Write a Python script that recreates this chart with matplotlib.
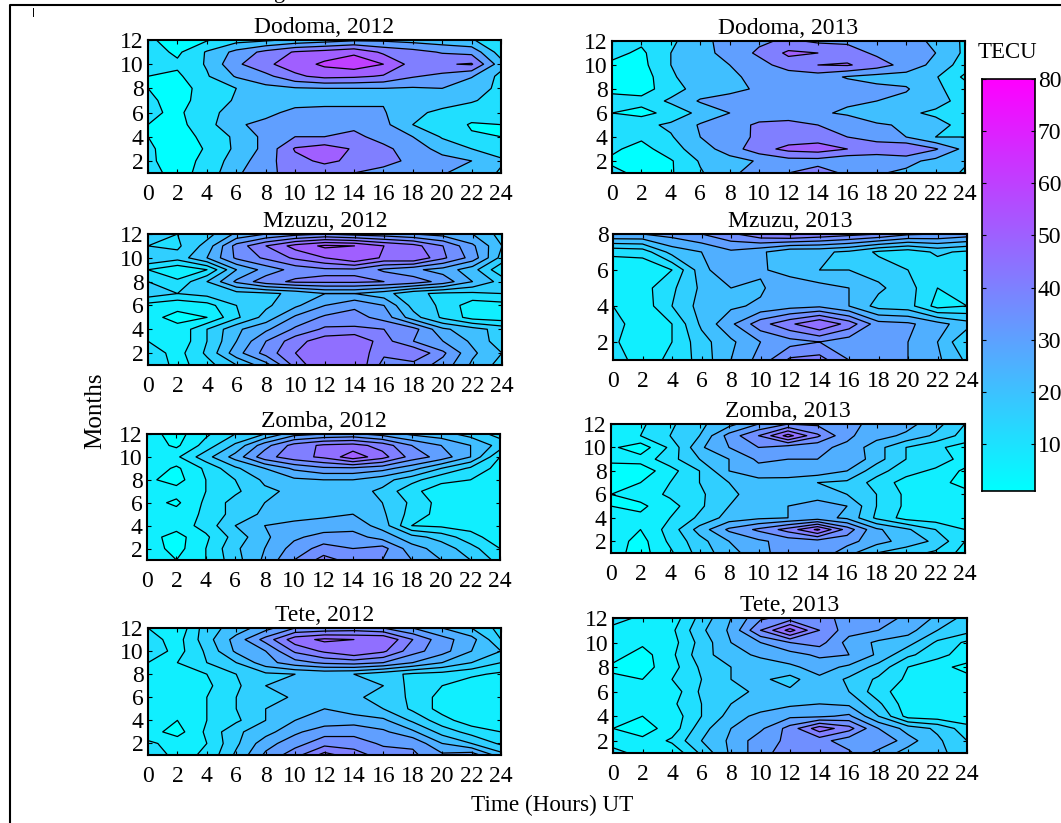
from matplotlib import pyplot as plt
from matplotlib.lines import Line2D
import numpy as np

plt.rcParams['font.family'] = ['Liberation Serif', 'DejaVu Serif']

W, H = 1061, 823

hours = list(range(0, 25, 2))

# each row is a month from 1 up, each column an hour from 0 to 24 step 2
dodoma_2012 = [
    [14, 6, 14, 28, 38, 43, 44, 40, 37, 33, 31, 25, 19],
    [12, 5, 13, 25, 36, 47, 52, 48, 43, 38, 34, 30, 21],
    [12, 4, 11, 22, 33, 51, 55, 49, 42, 36, 26, 20, 17],
    [10, 5, 13, 22, 33, 40, 40, 42, 37, 30, 19, 11, 10],
    [10, 7, 16, 29, 32, 36, 38, 38, 33, 20, 16, 9, 10],
    [12, 8, 17, 24, 28, 32, 32, 32, 31, 21, 19, 15, 14],
    [12, 6, 15, 21, 26, 27, 28, 28, 29, 27, 22, 21, 16],
    [10, 7, 13, 20, 27, 29, 30, 30, 30, 29, 30, 22, 19],
    [10, 8, 19, 31, 37, 48, 53, 52, 49, 41, 37, 31, 17],
    [15, 12, 21, 38, 48, 55, 62, 66, 60, 46, 49, 51, 24],
    [15, 8, 21, 33, 43, 51, 54, 58, 48, 44, 39, 37, 15],
    [12, 5, 9, 16, 18, 22, 25, 28, 28, 26, 24, 21, 12],
]
dodoma_2013 = [
    [13, 7, 9, 19, 27, 36, 40, 45, 38, 31, 28, 24, 19],
    [8, 5, 9, 21, 26, 31, 36, 36, 32, 33, 33, 27, 21],
    [12, 6, 16, 25, 35, 46, 53, 55, 50, 46, 50, 41, 27],
    [16, 12, 19, 30, 33, 43, 44, 45, 40, 36, 30, 20, 20],
    [16, 17, 22, 31, 35, 42, 43, 40, 39, 31, 29, 22, 18],
    [10, 7, 13, 23, 30, 34, 35, 32, 28, 25, 21, 19, 17],
    [13, 13, 22, 31, 33, 35, 35, 35, 32, 30, 27, 22, 18],
    [8, 6, 15, 25, 28, 31, 34, 38, 36, 33, 31, 22, 15],
    [7, 4, 19, 24, 28, 33, 34, 35, 29, 26, 26, 21, 8],
    [8, 7, 20, 24, 30, 36, 45, 50, 51, 45, 36, 27, 15],
    [13, 8, 20, 27, 33, 42, 52, 50, 45, 38, 33, 30, 18],
    [13, 12, 18, 27, 34, 38, 42, 38, 38, 36, 32, 29, 18],
]
mzuzu_2012 = [
    [15, 8, 13, 20, 28, 42, 50, 50, 38, 38, 33, 24, 18],
    [13, 8, 16, 28, 37, 45, 50, 49, 41, 45, 36, 26, 20],
    [10, 6, 15, 25, 35, 43, 48, 50, 42, 35, 30, 24, 17],
    [9, 6, 15, 24, 29, 36, 41, 41, 40, 37, 26, 22, 18],
    [6, 4, 5, 14, 22, 31, 36, 37, 33, 22, 14, 8, 7],
    [8, 6, 8, 15, 19, 24, 30, 34, 30, 18, 14, 7, 8],
    [18, 15, 17, 18, 19, 21, 25, 25, 22, 16, 14, 14, 15],
    [15, 11, 20, 31, 38, 41, 41, 41, 40, 38, 33, 25, 18],
    [10, 6, 10, 25, 32, 37, 39, 39, 34, 31, 28, 22, 11],
    [20, 17, 25, 36, 41, 46, 50, 55, 49, 50, 41, 33, 18],
    [15, 14, 22, 37, 45, 52, 56, 55, 50, 47, 40, 31, 20],
    [20, 15, 18, 26, 30, 33, 35, 33, 32, 30, 28, 25, 18],
]
mzuzu_2013 = [
    [12, 8, 11, 17, 25, 32, 41, 42, 35, 32, 30, 26, 19],
    [11, 6, 10, 18, 24, 30, 33, 35, 32, 32, 30, 25, 15],
    [12, 7, 10, 21, 29, 38, 44, 50, 43, 32, 31, 27, 22],
    [10, 7, 15, 22, 24, 26, 28, 29, 25, 18, 17, 8, 10],
    [8, 8, 14, 21, 25, 24, 30, 27, 25, 21, 17, 10, 11],
    [7, 6, 10, 23, 30, 26, 22, 20, 20, 18, 15, 12, 11],
    [11, 12, 22, 25, 29, 26, 21, 21, 19, 14, 12, 16, 14],
    [30, 30, 32, 35, 39, 44, 46, 44, 42, 40, 36, 35, 33],
]
zomba_2012 = [
    [9, 5, 10, 18, 26, 35, 42, 38, 35, 30, 25, 20, 13],
    [8, 3, 10, 19, 25, 32, 37, 35, 37, 27, 23, 17, 10],
    [7, 3, 9, 17, 24, 29, 32, 32, 28, 22, 18, 12, 7],
    [8, 7, 12, 20, 25, 27, 27, 28, 23, 10, 9, 8, 7],
    [8, 7, 11, 17, 21, 22, 24, 25, 21, 13, 8, 7, 7],
    [7, 4, 11, 17, 20, 21, 25, 21, 20, 14, 8, 7, 7],
    [7, 7, 10, 14, 19, 21, 22, 22, 19, 11, 8, 7, 7],
    [6, 3, 10, 15, 21, 24, 25, 25, 22, 17, 11, 10, 7],
    [9, 4, 11, 19, 25, 31, 34, 34, 32, 27, 20, 14, 8],
    [8, 9, 18, 27, 38, 43, 46, 53, 47, 38, 33, 25, 10],
    [8, 4, 12, 21, 33, 42, 46, 47, 43, 35, 30, 25, 18],
    [7, 3, 9, 15, 20, 28, 30, 31, 28, 24, 22, 18, 13],
]
zomba_2013 = [
    [7, 3, 9, 17, 23, 28, 33, 34, 27, 20, 17, 14, 8],
    [8, 3, 11, 18, 25, 29, 32, 33, 32, 27, 23, 19, 10],
    [7, 5, 12, 22, 31, 36, 42, 51, 38, 26, 21, 15, 10],
    [7, 6, 10, 16, 22, 24, 25, 27, 24, 14, 8, 7, 6],
    [5, 4, 8, 14, 20, 23, 25, 26, 25, 15, 9, 6, 6],
    [5, 7, 11, 14, 19, 22, 22, 24, 20, 15, 9, 6, 6],
    [4, 5, 10, 15, 20, 23, 22, 20, 19, 13, 8, 6, 4],
    [3, 2, 8, 15, 25, 28, 29, 28, 25, 17, 12, 9, 4],
    [6, 7, 13, 20, 25, 31, 30, 30, 30, 22, 15, 13, 8],
    [6, 2, 11, 24, 30, 35, 32, 31, 29, 22, 15, 11, 8],
    [5, 10, 15, 20, 32, 40, 52, 41, 31, 27, 24, 19, 13],
    [6, 9, 14, 19, 23, 30, 35, 34, 31, 29, 27, 22, 15],
]
tete_2012 = [
    [14, 8, 11, 21, 31, 38, 47, 42, 38, 36, 31, 33, 22],
    [11, 8, 10, 19, 28, 33, 38, 38, 34, 34, 25, 20, 14],
    [7, 3, 11, 19, 23, 29, 33, 33, 31, 26, 18, 13, 10],
    [7, 5, 10, 14, 20, 25, 27, 28, 26, 19, 12, 7, 5],
    [6, 6, 10, 15, 20, 21, 25, 22, 20, 14, 8, 6, 5],
    [6, 5, 10, 15, 17, 21, 22, 21, 18, 14, 8, 6, 5],
    [6, 6, 9, 14, 20, 21, 25, 24, 20, 13, 10, 7, 6],
    [7, 5, 10, 15, 19, 20, 21, 20, 17, 14, 13, 11, 9],
    [10, 10, 15, 20, 28, 33, 36, 37, 35, 30, 25, 20, 15],
    [14, 8, 16, 26, 30, 41, 46, 50, 46, 37, 32, 25, 20],
    [12, 8, 18, 27, 37, 48, 51, 50, 50, 40, 32, 27, 15],
    [10, 6, 18, 22, 28, 35, 36, 37, 35, 30, 25, 20, 13],
]
tete_2013 = [
    [13, 7, 6, 16, 26, 33, 38, 38, 36, 28, 23, 21, 18],
    [6, 6, 11, 20, 26, 33, 36, 37, 32, 35, 27, 21, 15],
    [5, 3, 7, 18, 25, 29, 37, 48, 42, 30, 23, 19, 12],
    [5.5, 5, 7, 15, 22, 27, 29, 29, 31, 20, 8, 7, 6],
    [6, 6, 9, 15, 20, 21, 24, 25, 24, 16, 7, 6, 6],
    [6, 6, 7, 16, 17, 22, 21, 21, 20, 12, 7, 6, 6],
    [6, 5, 10, 15, 20, 21, 18, 24, 19, 14, 9, 6, 6],
    [4, 3, 8, 16, 20, 22, 24, 27, 24, 18, 10, 6, 4],
    [7, 3, 9, 18, 23, 26, 28, 31, 30, 24, 16, 12, 7],
    [9, 6, 8, 17, 25, 30, 35, 37, 28, 24, 22, 14, 9],
    [7, 6, 9, 19, 26, 40, 52, 40, 32, 30, 27, 20, 17],
    [14, 8, 7, 17, 25, 34, 37, 36, 34, 32, 29, 24, 18],
]

titles = ['Dodoma, 2012', 'Dodoma, 2013', 'Mzuzu, 2012', 'Mzuzu, 2013',
          'Zomba, 2012', 'Zomba, 2013', 'Tete, 2012', 'Tete, 2013']
grids = [dodoma_2012, dodoma_2013, mzuzu_2012, mzuzu_2013,
         zomba_2012, zomba_2013, tete_2012, tete_2013]
steps = [10, 10, 5, 5, 5, 5, 5, 5]

# left, top, right, bottom in pixels
boxes = [(148, 40, 501, 173), (612, 41, 965, 173),
         (148, 234, 502, 365), (613, 234, 967, 360),
         (147, 434, 500, 560), (611, 424, 965, 553),
         (148, 628, 501, 755), (613, 618, 967, 753)]

cbar_ticks = [10, 20, 30, 40, 50, 60, 70, 80]


def pixel_axes(fig, box):
    left, top, right, bottom = box
    return fig.add_axes([left / W, 1 - bottom / H, (right - left) / W, (bottom - top) / H])


def draw_panel(ax, title, grid, step):
    z = np.array(grid)
    months = np.arange(1, len(grid) + 1)
    levels = np.arange(0, 80 + step, step)
    colors = [plt.cm.cool(v / 80) for v in levels[:-1]]
    ax.contourf(hours, months, z, levels=levels, colors=colors)
    ax.contour(hours, months, z, levels=levels[1:], colors='k', linewidths=0.9)
    ax.set_xlim(0, 24)
    ax.set_ylim(1, months[-1])
    ax.set_xticks(hours)
    ax.set_yticks(months[1::2])
    ax.tick_params(direction='in', top=True, right=True, length=3, width=0.8, labelsize=17)
    ax.tick_params(axis='x', pad=8)
    ax.tick_params(axis='y', pad=3)
    for s in ax.spines.values():
        s.set_linewidth(1.5)
    ax.set_title(title, fontsize=17, pad=5)


def main():
    fig = plt.figure(figsize=(W / 100, H / 100), dpi=100)

    for title, grid, step, box in zip(titles, grids, steps, boxes):
        draw_panel(pixel_axes(fig, box), title, grid, step)

    cax = pixel_axes(fig, (982, 79, 1035, 491))
    ramp = np.linspace(1, 80, 256).reshape(-1, 1)
    cax.imshow(ramp, origin='lower', aspect='auto', cmap='cool', vmin=1, vmax=80,
               extent=[0, 1, 1, 80])
    cax.set_xticks([])
    cax.yaxis.tick_right()
    cax.set_yticks(cbar_ticks)
    cax.tick_params(axis='y', direction='in', left=True, right=True, length=3,
                    width=0.8, labelsize=17, pad=2)
    for s in cax.spines.values():
        s.set_linewidth(1.2)

    fig.text(1007 / W, 1 - 52 / H, 'TECU', fontsize=16.5, ha='center', va='center')
    fig.text(95 / W, 1 - 411 / H, 'Months', fontsize=18, rotation=90, ha='center', va='center')
    fig.text(552 / W, 1 - 805 / H, 'Time (Hours) UT', fontsize=16.7, ha='center', va='center')
    # bit of a line cut off by the top edge
    fig.text(280 / W, 1 + 2 / H, 'g', fontsize=16, ha='center', va='baseline')

    # outer frame, only the left and top sides are in the picture
    fig.add_artist(Line2D([9.5 / W, 9.5 / W, 1], [0, 1 - 5 / H, 1 - 5 / H], color='k', lw=1.5))
    fig.add_artist(Line2D([33 / W, 33 / W], [1 - 8 / H, 1 - 16 / H], color='k', lw=0.7))

    fig.savefig('out.png', dpi=100)


if __name__ == '__main__':
    main()
